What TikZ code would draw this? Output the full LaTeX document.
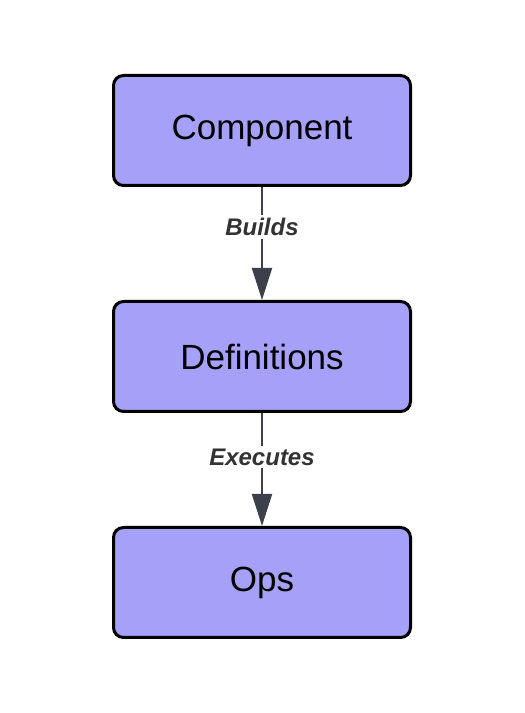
\documentclass[tikz,border=0pt]{standalone}
\usepackage{fontspec}
\setmainfont{Liberation Sans}
\usetikzlibrary{positioning, arrows.meta}
\definecolor{BoxLavender}{RGB}{166, 161, 248}
\definecolor{EdgeSlate}{RGB}{59, 64, 74}
\definecolor{LabelGrey}{RGB}{51, 51, 51}

\begin{document}
\begin{tikzpicture}[x=1pt, y=1pt, node distance=113pt,
    stage/.style={draw=black, line width=3pt, fill=BoxLavender, rounded corners=10pt,
        minimum width=297pt, minimum height=110pt, font=\fontsize{35}{42}\selectfont},
    flow/.style={EdgeSlate, line width=2pt, -{Triangle[width=20pt, length=32pt]}},
    tag/.style={fill=white, text=LabelGrey, inner sep=3pt,
        font=\fontsize{24}{28}\selectfont\bfseries\itshape}]
    \useasboundingbox (0,0) rectangle (525,713);

    % Etapas
    \node[stage] (comp) at (262,582.5) {Component};
    \node[stage, below=of comp] (defs) {Definitions};
    \node[stage, below=of defs] (ops) {Ops};

    % Flechas
    \draw[flow] (comp) -- node[tag, pos=0.355] {Builds} (defs);
    \draw[flow] (defs) -- node[tag, pos=0.39] {Executes} (ops);
\end{tikzpicture}
\end{document}
